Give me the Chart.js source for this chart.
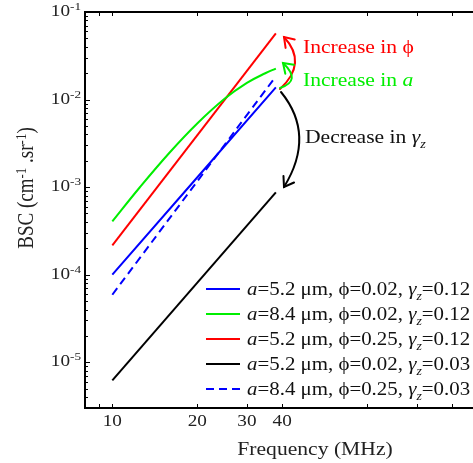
<!DOCTYPE html>
<html><head><meta charset="utf-8">
<script src="https://cdn.jsdelivr.net/npm/chart.js@4/dist/chart.umd.min.js"></script>
<style>html,body{margin:0;padding:0;background:#fff}#wrap{width:473px;height:463px}</style>
</head><body><div id="wrap"><canvas id="c" width="473" height="463"></canvas></div>
<script>
// ---- data ----
const freqStraight = [10, 38];                       // MHz, straight curves (log-log)
const freqGreen = [10, 12.5, 16, 20, 25, 30, 35, 38]; // MHz, curved green series
const bscBlue = [1.0e-4, 1.38e-2];                   // a=5.2, phi=0.02, gz=0.12
const bscGreen = [4.06e-4, 9.9e-4, 2.5e-3, 5.33e-3, 1.02e-2, 1.55e-2, 2.01e-2, 2.26e-2]; // a=8.4, phi=0.02, gz=0.12
const bscRed = [2.16e-4, 5.7e-2];                    // a=5.2, phi=0.25, gz=0.12
const bscBlack = [6.2e-6, 8.7e-4];                   // a=5.2, phi=0.02, gz=0.03
const bscBlueDash = [5.9e-5, 1.84e-2];               // a=8.4, phi=0.25, gz=0.03
const aVals = ['5.2', '8.4', '5.2', '5.2', '8.4'];
const phiVals = ['0.02', '0.02', '0.25', '0.02', '0.25'];
const gammaVals = ['0.12', '0.12', '0.12', '0.03', '0.03'];
const xTicks = [9, 10, 20, 30, 40, 80, 120, 160];
const xTickLabels = ['', '10', '20', '30', '40', '', '', ''];
const yMajor = [1e-1, 1e-2, 1e-3, 1e-4, 1e-5];
const yMajorExp = ['-1', '-2', '-3', '-4', '-5'];

const colors = ['#0000ff', '#00ee00', '#ff0000', '#000000', '#0000ff'];
const dashes = [[], [], [], [], [8, 5]];
const seriesX = [freqStraight, freqGreen, freqStraight, freqStraight, freqStraight];
const seriesY = [bscBlue, bscGreen, bscRed, bscBlack, bscBlueDash];

const FONT = '"Liberation Serif", "Times New Roman", serif';
let SX = 1.2; // horizontal stretch of text in reference
const PHI = '\u03d5';

function fontOf(size, it) { return (it ? 'italic ' : '') + size + 'px ' + FONT; }
function segSize(s, base) { return (s.sup || s.sub) ? Math.round(base * 0.66) : base; }
function richWidth(ctx, segs, base) {
  let w = 0;
  for (const s of segs) { ctx.font = fontOf(segSize(s, base), s.it); w += ctx.measureText(s.t).width * SX; }
  return w;
}
function drawRich(ctx, segs, x, y, base, color, align) {
  ctx.save();
  ctx.fillStyle = color; ctx.textBaseline = 'alphabetic'; ctx.textAlign = 'left';
  let cx = x;
  if (align === 'right') cx = x - richWidth(ctx, segs, base);
  if (align === 'center') cx = x - richWidth(ctx, segs, base) / 2;
  for (const s of segs) {
    const sz = segSize(s, base);
    ctx.font = fontOf(sz, s.it);
    const dy = s.sup ? -base * 0.36 : (s.sub ? base * 0.25 : 0);
    ctx.save(); ctx.translate(cx, y + dy); ctx.scale(SX, 1); ctx.fillText(s.t, 0, 0); ctx.restore();
    cx += ctx.measureText(s.t).width * SX;
  }
  ctx.restore();
}
function arrow(ctx, p0, c, p2, color) {
  ctx.save();
  ctx.strokeStyle = color; ctx.lineWidth = 2; ctx.lineCap = 'round';
  ctx.beginPath(); ctx.moveTo(p0[0], p0[1]); ctx.quadraticCurveTo(c[0], c[1], p2[0], p2[1]); ctx.stroke();
  const ang = Math.atan2(p2[1] - c[1], p2[0] - c[0]);
  const L = 11, A = 0.6;
  ctx.beginPath();
  ctx.moveTo(p2[0] - L * Math.cos(ang - A), p2[1] - L * Math.sin(ang - A));
  ctx.lineTo(p2[0], p2[1]);
  ctx.lineTo(p2[0] - L * Math.cos(ang + A), p2[1] - L * Math.sin(ang + A));
  ctx.stroke();
  ctx.restore();
}

const deco = {
  id: 'deco',
  afterDraw(chart) {
    const ctx = chart.ctx, a = chart.chartArea, xs = chart.scales.x, ys = chart.scales.y;
    ctx.save();
    ctx.strokeStyle = '#000';
    // top frame
    ctx.lineWidth = 2;
    ctx.beginPath(); ctx.moveTo(a.left - 1, a.top); ctx.lineTo(a.right, a.top); ctx.stroke();
    // ticks
    ctx.lineWidth = 1;
    for (const t of xTicks) {
      const px = Math.round(xs.getPixelForValue(t)) + 0.5;
      ctx.beginPath(); ctx.moveTo(px, a.bottom); ctx.lineTo(px, a.bottom - 4);
      ctx.moveTo(px, a.top); ctx.lineTo(px, a.top + 4); ctx.stroke();
    }
    for (let e = -6; e <= -1; e++) {
      for (let m = 1; m <= 9; m++) {
        const v = m * Math.pow(10, e);
        if (v < ys.min || v > ys.max) continue;
        const py = Math.round(ys.getPixelForValue(v)) + 0.5;
        ctx.beginPath(); ctx.moveTo(a.left, py); ctx.lineTo(a.left + (m === 1 ? 5 : 3), py); ctx.stroke();
      }
    }
    ctx.restore();
    SX = 1.2;
    // x tick labels
    xTicks.forEach((t, i) => {
      if (!xTickLabels[i]) return;
      drawRich(ctx, [{ t: xTickLabels[i] }], xs.getPixelForValue(t), a.bottom + 18, 16, '#222', 'center');
    });
    // y tick labels
    yMajor.forEach((v, i) => {
      const py = ys.getPixelForValue(v);
      drawRich(ctx, [{ t: '10' }, { t: yMajorExp[i], sup: true }], a.left - 4, py + 4, 16, '#222', 'right');
    });
    // axis titles
    drawRich(ctx, [{ t: 'Frequency (MHz)' }], 315, 455, 18, '#222', 'center');
    ctx.save();
    ctx.translate(33, 188); ctx.rotate(-Math.PI / 2);
    {
      const segs = [{ t: 'BSC (cm' }, { t: '-1', sup: true }, { t: ' .sr' }, { t: '-1', sup: true }, { t: ')' }];
      let w = 0; for (const s of segs) { ctx.font = fontOf(segSize(s, 19), s.it); w += ctx.measureText(s.t).width; }
      let cx = -w / 2;
      ctx.fillStyle = '#222'; ctx.textBaseline = 'alphabetic';
      for (const s of segs) {
        const sz = segSize(s, 19); ctx.font = fontOf(sz, s.it);
        const dy = s.sup ? -19 * 0.36 : 0;
        ctx.save(); ctx.translate(cx, dy); ctx.scale(1, SX); ctx.fillText(s.t, 0, 0); ctx.restore();
        cx += ctx.measureText(s.t).width;
      }
    }
    ctx.restore();
    // annotations
    arrow(ctx, [280, 89], [308, 63], [284, 37], '#ff0000');
    arrow(ctx, [280, 88], [302, 81], [283, 63], '#00ee00');
    arrow(ctx, [281, 92], [316, 135], [284, 187], '#000000');
    drawRich(ctx, [{ t: 'Increase in ' + PHI }], 303, 53, 18, '#ff0000', 'left');
    drawRich(ctx, [{ t: 'Increase in ' }, { t: 'a', it: true }], 303, 86, 18, '#00ee00', 'left');
    drawRich(ctx, [{ t: 'Decrease in ' }, { t: '\u03b3', it: true }, { t: 'z', it: true, sub: true }], 305, 143, 18, '#111', 'left');
    // legend
    SX = 1.16;
    const rowY = [289, 314, 339, 364, 389];
    for (let i = 0; i < 5; i++) {
      ctx.save();
      ctx.strokeStyle = colors[i]; ctx.lineWidth = 2; ctx.setLineDash(dashes[i]);
      ctx.beginPath(); ctx.moveTo(206, rowY[i]); ctx.lineTo(240, rowY[i]); ctx.stroke();
      ctx.restore();
      const segs = [{ t: 'a', it: true }, { t: '=' + aVals[i] + ' \u03bcm, ' }, { t: PHI }, { t: '=' + phiVals[i] + ', ' },
        { t: '\u03b3', it: true }, { t: 'z', it: true, sub: true }, { t: '=' + gammaVals[i] }];
      drawRich(ctx, segs, 247, rowY[i] + 6, 18, '#111', 'left');
    }
    SX = 1.2;
  }
};

const datasets = seriesY.map((ys, i) => ({
  label: 'a=' + aVals[i] + ' \u03bcm, \u03d5=' + phiVals[i] + ', \u03b3z=' + gammaVals[i],
  data: seriesX[i].map((f, j) => ({ x: f, y: ys[j] })),
  borderColor: colors[i], borderWidth: 2, borderDash: dashes[i],
  pointRadius: 0, fill: false, tension: 0.4
}));

new Chart(document.getElementById('c'), {
  type: 'line',
  data: { datasets },
  options: {
    responsive: false, animation: false, devicePixelRatio: 1,
    layout: { padding: { left: 0, right: 0, top: 12, bottom: 0 } },
    plugins: { legend: { display: false }, tooltip: { enabled: false } },
    scales: {
      x: {
        type: 'logarithmic', min: 8, max: 190, position: 'bottom',
        grid: { display: true, drawOnChartArea: false, drawTicks: false },
        border: { display: true, color: '#000', width: 2 },
        ticks: { display: false }, afterFit: s => { s.height = 55; }
      },
      y: {
        type: 'logarithmic', min: 3e-6, max: 0.1,
        grid: { display: true, drawOnChartArea: false, drawTicks: false },
        border: { display: true, color: '#000', width: 2 },
        ticks: { display: false }, afterFit: s => { s.width = 85; }
      }
    }
  },
  plugins: [deco]
});
</script>
</body></html>
